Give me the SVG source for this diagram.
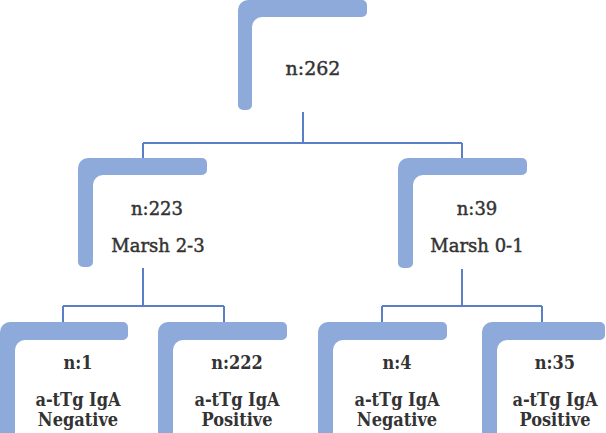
<svg xmlns="http://www.w3.org/2000/svg" width="606" height="433" viewBox="0 0 606 433">
<style>
.frame{fill:#8eaadb}
.lbl{font-family:"DejaVu Serif","Liberation Serif",serif;fill:#333333;text-anchor:middle}
.mid{font-size:18px;stroke:#333333;stroke-width:0.45}
.top{font-size:19px;stroke:#333333;stroke-width:0.45}
.bot{font-family:"DejaVu Serif Condensed","DejaVu Serif",serif;font-size:18px;font-weight:bold}
.conn{fill:none;stroke:#5b7fc7;stroke-width:2}
</style>
<rect width="606" height="433" fill="#ffffff"/>
<g id="connectors" class="conn">
<path d="M303 112V143M143 143H462M143 143V158M462 143V158"/>
<path d="M143 268V306M63 306H224M63 306V322M224 306V322"/>
<path d="M462 269V306M382 306H542M382 306V322M542 306V322"/>
</g>
<g id="n262">
<path class="frame" d="M238 10A10 10 0 0 1 248 0H362A5 5 0 0 1 367 5V12A5 5 0 0 1 362 17H262A10 10 0 0 0 252 27V105A5 5 0 0 1 247 110H243A5 5 0 0 1 238 105Z"/>
<text class="lbl top" x="313" y="75">n:262</text>
</g>
<g id="n223">
<path class="frame" d="M78 168A10 10 0 0 1 88 158H202A5 5 0 0 1 207 163V170A5 5 0 0 1 202 175H103A10 10 0 0 0 93 185V262A5 5 0 0 1 88 267H83A5 5 0 0 1 78 262Z"/>
<text class="lbl mid" x="157" y="215">n:223</text>
<text class="lbl mid" x="158" y="252">Marsh 2-3</text>
</g>
<g id="n39">
<path class="frame" d="M398 168A10 10 0 0 1 408 158H522A5 5 0 0 1 527 163V170A5 5 0 0 1 522 175H423A10 10 0 0 0 413 185V263A5 5 0 0 1 408 268H403A5 5 0 0 1 398 263Z"/>
<text class="lbl mid" x="477" y="215">n:39</text>
<text class="lbl mid" x="477" y="252">Marsh 0-1</text>
</g>
<g id="n1">
<path class="frame" d="M0 332A10 10 0 0 1 10 322H123A5 5 0 0 1 128 327V335A5 5 0 0 1 123 340H25A10 10 0 0 0 15 350V440H0Z"/>
<text class="lbl bot" x="78" y="369">n:1</text>
<text class="lbl bot" x="78" y="406">a-tTg IgA</text>
<text class="lbl bot" x="78" y="426">Negative</text>
</g>
<g id="n222">
<path class="frame" d="M158 332A10 10 0 0 1 168 322H282A5 5 0 0 1 287 327V335A5 5 0 0 1 282 340H183A10 10 0 0 0 173 350V440H158Z"/>
<text class="lbl bot" x="237" y="369">n:222</text>
<text class="lbl bot" x="237" y="406">a-tTg IgA</text>
<text class="lbl bot" x="237" y="426">Positive</text>
</g>
<g id="n4">
<path class="frame" d="M318 332A10 10 0 0 1 328 322H442A5 5 0 0 1 447 327V335A5 5 0 0 1 442 340H343A10 10 0 0 0 333 350V440H318Z"/>
<text class="lbl bot" x="397" y="369">n:4</text>
<text class="lbl bot" x="397" y="406">a-tTg IgA</text>
<text class="lbl bot" x="397" y="426">Negative</text>
</g>
<g id="n35">
<path class="frame" d="M482 332A10 10 0 0 1 492 322H600A5 5 0 0 1 605 327V335A5 5 0 0 1 600 340H507A10 10 0 0 0 497 350V440H482Z"/>
<text class="lbl bot" x="555" y="369">n:35</text>
<text class="lbl bot" x="555" y="406">a-tTg IgA</text>
<text class="lbl bot" x="555" y="426">Positive</text>
</g>
</svg>
